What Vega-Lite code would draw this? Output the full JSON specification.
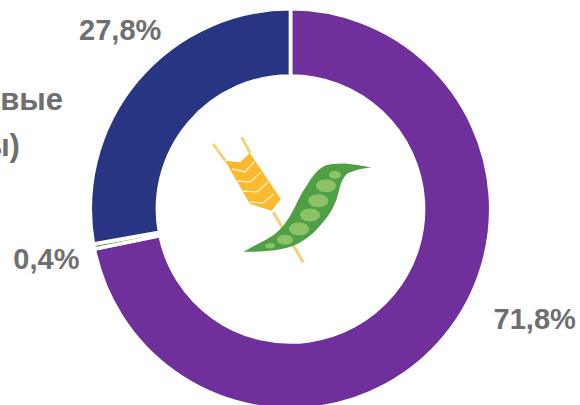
{
"$schema":"https://vega.github.io/schema/vega-lite/v6.json",
"width":580,"height":405,"autosize":{"type":"none"},"padding":0,"background":"white",
"config":{"view":{"stroke":null}},
"title":{"text":["вые","ы)\u00a0\u00a0\u00a0\u00a0\u00a0\u200b"],"anchor":"start","frame":"group","orient":"top","align":"right","dx":63,"dy":163,"offset":0,"baseline":"top","font":"Liberation Sans","fontSize":31,"fontWeight":"bold","color":"#6f6f6f","lineHeight":46},
"datasets":{"shares":[
{"part":"A","share":71.8,"order":1,"label":"71,8%"},
{"part":"B","share":0.4,"order":2,"label":"0,4%"},
{"part":"C","share":27.8,"order":3,"label":"27,8%"}]},
"layer":[
{"data":{"name":"shares"},
 "mark":{"type":"arc","x":290.5,"y":209,"innerRadius":133,"outerRadius":200.3,"stroke":"white","strokeWidth":3.7},
 "encoding":{"theta":{"field":"share","type":"quantitative","stack":true},"order":{"field":"order"},
 "color":{"field":"part","type":"nominal","legend":null,"scale":{"domain":["A","B","C"],"range":["#70309c","#4ea72e","#283583"]}}}},
{"data":{"name":"shares"},
 "mark":{"type":"text","x":290,"y":209,"dx":65,"dy":-36,"font":"Liberation Sans","fontSize":29,"fontWeight":"bold","fill":"#6f6f6f"},
 "encoding":{"theta":{"field":"share","type":"quantitative","stack":true},"order":{"field":"order"},"radius":{"value":232},
 "text":{"condition":{"test":"datum.part==='A'","field":"label"},"value":""}}},
{"data":{"name":"shares"},
 "mark":{"type":"text","x":290,"y":209,"dx":0,"dy":5,"font":"Liberation Sans","fontSize":29,"fontWeight":"bold","fill":"#6f6f6f"},
 "encoding":{"theta":{"field":"share","type":"quantitative","stack":true},"order":{"field":"order"},"radius":{"value":248},
 "text":{"condition":{"test":"datum.part==='B'","field":"label"},"value":""}}},
{"data":{"name":"shares"},
 "mark":{"type":"text","x":290,"y":209,"dx":18,"dy":-21,"font":"Liberation Sans","fontSize":29,"fontWeight":"bold","fill":"#6f6f6f"},
 "encoding":{"theta":{"field":"share","type":"quantitative","stack":true},"order":{"field":"order"},"radius":{"value":245},
 "text":{"condition":{"test":"datum.part==='C'","field":"label"},"value":""}}},
{"data":{"values":[{"icon":"stem"}]},
 "mark":{"type":"point","x":290,"y":209,"size":4,"filled":true,"opacity":1,"fill":"#f5d27c","shape":"M-15.3 2.5L14.7 52.5L12 54.2L-18 4.2ZM-75.5 -65.8L-63.5 -49L-66 -47.5L-78 -64.2ZM-47 -72.5L-38.5 -56.8L-41.2 -55.2L-49.6 -71Z"},"encoding":{}},
{"data":{"values":[{"icon":"head"}]},
 "mark":{"type":"point","x":290,"y":209,"size":4,"filled":true,"opacity":1,"fill":"#fbb92e","shape":"M-65 -48.3L-50 -46.7L-40 -56L-9.3 -10L-18.3 1.7L-40 -5Z"},"encoding":{}},
{"data":{"values":[{"icon":"grain"}]},
 "mark":{"type":"point","x":290,"y":209,"size":4,"filled":false,"opacity":0.9,"stroke":"#fff3cf","strokeWidth":1.3,"shape":"M-58 -40L-45 -37L-35 -48M-53 -28L-40 -27L-29 -37M-47 -18L-33 -17L-22 -27M-40 -7L-27 -6L-16 -15"},"encoding":{}},
{"data":{"values":[{"icon":"pod"}]},
 "mark":{"type":"point","x":290,"y":209,"size":4,"filled":true,"opacity":1,"fill":"#4f9f45","shape":"M-46.7 42.7C-30 33 -18 30 -6.7 16.7C4 4 8 -12 16.7 -23.3C24 -36 32 -45 43.3 -45C58 -47 70 -43 81.7 -41.7C70 -40 62 -38 56.7 -35C50 -28 50 -20 46.7 -10C42 2 38 8 30 16.7C22 26 14 32 3.3 36.7C-12 42 -30 43 -46.7 42.7Z"},"encoding":{}},
{"data":{"values":[{"icon":"peas"}]},
 "mark":{"type":"point","x":290,"y":209,"size":4,"filled":true,"opacity":1,"fill":"#8dc266","shape":"M-25 36.7A5 2.7 0 1 0 -15 36.7A5 2.7 0 1 0 -25 36.7ZM-13 30.7A8 5 0 1 0 3 30.7A8 5 0 1 0 -13 30.7ZM-1 20A10 6.5 0 1 0 19 20A10 6.5 0 1 0 -1 20ZM10 6A10 6.5 0 1 0 30 6A10 6.5 0 1 0 10 6ZM18.3 -8.3A10 6.5 0 1 0 38.3 -8.3A10 6.5 0 1 0 18.3 -8.3ZM26 -23.3A10 6.5 0 1 0 46 -23.3A10 6.5 0 1 0 26 -23.3ZM39 -34.3A6 4 0 1 0 51 -34.3A6 4 0 1 0 39 -34.3Z"},"encoding":{}}
]
}
